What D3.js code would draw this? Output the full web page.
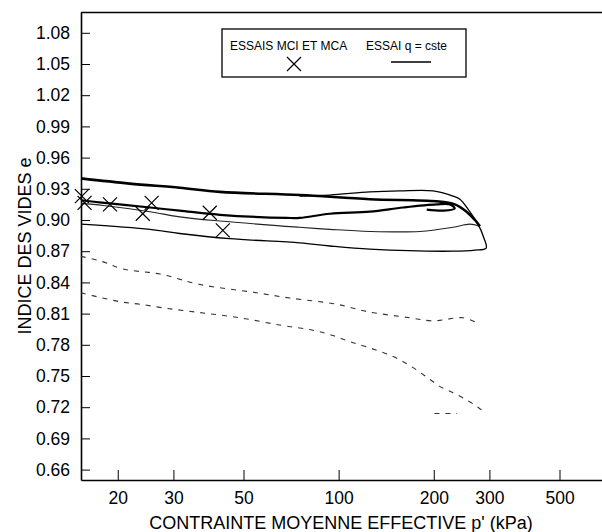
<!DOCTYPE html>
<html><head><meta charset="utf-8">
<script src="https://cdn.jsdelivr.net/npm/d3@7"></script>
<style>
html,body{margin:0;padding:0;background:#fff;}
svg{display:block;font-family:"Liberation Sans",Arial,sans-serif;}
</style></head>
<body><svg id="c" width="602" height="532"></svg>
<script>
// ---- data ----
const xTicks = [20, 30, 50, 100, 200, 300, 500];
const yTicks = [0.66,0.69,0.72,0.75,0.78,0.81,0.84,0.87,0.90,0.93,0.96,0.99,1.02,1.05,1.08];

// ESSAIS MCI ET MCA (markers)
const mciP = [15.4, 15.7, 18.9, 24.0, 25.6, 39.1, 43.0];
const mciE = [0.923, 0.9165, 0.915, 0.906, 0.9165, 0.907, 0.890];

// ESSAI q = cste (solid curves) : [p', e]
const topLoad = [[15.3,0.940],[21.8,0.935],[31.4,0.931],[42.1,0.927],[75.3,0.924],[125.5,0.920],[204,0.918],[233,0.915],[254,0.908],[270,0.900],[280,0.894]];
const topUnload = [[280,0.894],[260,0.896],[230,0.893],[181,0.889],[125.5,0.889],[93.8,0.891],[75.3,0.893],[42.1,0.899],[31.4,0.903],[25.3,0.908],[18,0.914],[15.3,0.916]];
const midLoad = [[15.3,0.919],[17.5,0.917],[25.3,0.912],[31.4,0.909],[42.1,0.905],[68.5,0.902],[75.3,0.902],[93.8,0.906],[125.5,0.908],[160,0.912],[204,0.915],[225,0.915],[233,0.911],[215,0.909],[190,0.910]];
const lowLoop = [[15.3,0.896],[25.3,0.891],[31.4,0.887],[45.2,0.882],[75.3,0.878],[93.8,0.875],[125.5,0.872],[230,0.870],[270,0.871],[293,0.873],[288,0.883],[276,0.896],[260,0.908],[242,0.920],[230,0.923],[199,0.928],[156,0.928],[125.5,0.927],[93.8,0.924],[75.3,0.923]];

// dashed curves
const dashA = [[15.3,0.865],[17.9,0.860],[20.7,0.853],[27.2,0.848],[36.4,0.838],[55.1,0.830],[70.0,0.825],[98.6,0.819],[122.7,0.812],[168,0.806],[199,0.803],[247,0.806],[270,0.802]];
const dashB = [[15.3,0.830],[17.9,0.825],[20.7,0.821],[23.5,0.819],[28.6,0.815],[36.4,0.811],[48.6,0.806],[65.1,0.799],[82.8,0.794],[95.8,0.789],[108.5,0.783],[125.5,0.777],[148,0.769],[168,0.760],[190,0.749],[209,0.740],[230,0.734],[254,0.727],[276,0.720],[292,0.714]];
const dashC = [[201,0.714],[237,0.714]];

// ---- chart ----
const svg = d3.select("#c");
const x = d3.scaleLog().domain([15.3, 700]).range([81, 81 + Math.log10(700/15.3)*316]);
const y = d3.scaleLinear().domain([0.65, 1.10]).range([480, 12]);

const line = d3.line().x(d => x(d[0])).y(d => y(d[1])).curve(d3.curveCatmullRom.alpha(0.5));

// frame top line
svg.append("line").attr("x1",81).attr("x2",602).attr("y1",12.5).attr("y2",12.5)
  .attr("stroke","#000").attr("stroke-width",1.5);

// axes
const yAxis = d3.axisLeft(y).tickValues(yTicks).tickFormat(d3.format(".2f"))
  .tickSizeInner(-9).tickSizeOuter(0).tickPadding(11);
const gy = svg.append("g").attr("transform","translate(81,0)").call(yAxis);
gy.select(".domain").attr("stroke-width",1.6);
gy.selectAll("text").attr("font-size",17.5).attr("fill","#000").attr("font-family","Liberation Sans, Arial, sans-serif");

const xAxis = d3.axisBottom(x).tickValues(xTicks).tickFormat(d3.format("d"))
  .tickSizeInner(-10).tickSizeOuter(0).tickPadding(12);
const gx = svg.append("g").attr("transform","translate(0,480)").call(xAxis);
gx.select(".domain").attr("stroke-width",1.6);
gx.selectAll("text").attr("font-size",17.5).attr("fill","#000").attr("font-family","Liberation Sans, Arial, sans-serif");

// axis titles
svg.append("text").attr("x",341).attr("y",529).attr("text-anchor","middle")
  .attr("font-size",18).text("CONTRAINTE MOYENNE EFFECTIVE p' (kPa)");
svg.append("text").attr("transform","translate(31,246) rotate(-90)").attr("text-anchor","middle")
  .attr("font-size",18).text("INDICE DES VIDES e");

// solid curves
const g = svg.append("g").attr("fill","none").attr("stroke","#000");
g.append("path").attr("d", line(topLoad)).attr("stroke-width",2.6);
g.append("path").attr("d", line(topUnload)).attr("stroke-width",1.1).attr("stroke","#222");
g.append("path").attr("d", line(midLoad)).attr("stroke-width",2.2);
g.append("path").attr("d", line(lowLoop)).attr("stroke-width",1.3);

// dashed curves
[dashA, dashB, dashC].forEach(c => {
  g.append("path").attr("d", line(c)).attr("stroke","#333").attr("stroke-width",1.1)
   .attr("stroke-dasharray","5,6");
});

// markers
const ms = 7;
const mk = svg.append("g").attr("stroke","#000").attr("stroke-width",1.2);
mciP.forEach((p,i) => {
  const cx = x(p), cy = y(mciE[i]);
  mk.append("path").attr("d",`M${cx-ms},${cy-ms}L${cx+ms},${cy+ms}M${cx-ms},${cy+ms}L${cx+ms},${cy-ms}`);
});

// legend
const lg = svg.append("g");
lg.append("rect").attr("x",222).attr("y",29).attr("width",244).attr("height",48)
  .attr("fill","#fff").attr("stroke","#000").attr("stroke-width",1.3);
lg.append("text").attr("x",230).attr("y",50).attr("font-size",12).text("ESSAIS MCI ET MCA");
lg.append("text").attr("x",366).attr("y",50).attr("font-size",12).text("ESSAI q = cste");
lg.append("path").attr("d",`M${294-ms},${64-ms}L${294+ms},${64+ms}M${294-ms},${64+ms}L${294+ms},${64-ms}`)
  .attr("stroke","#000").attr("stroke-width",1.2);
lg.append("line").attr("x1",391).attr("x2",431).attr("y1",62).attr("y2",62)
  .attr("stroke","#000").attr("stroke-width",1.3);
</script></body></html>
